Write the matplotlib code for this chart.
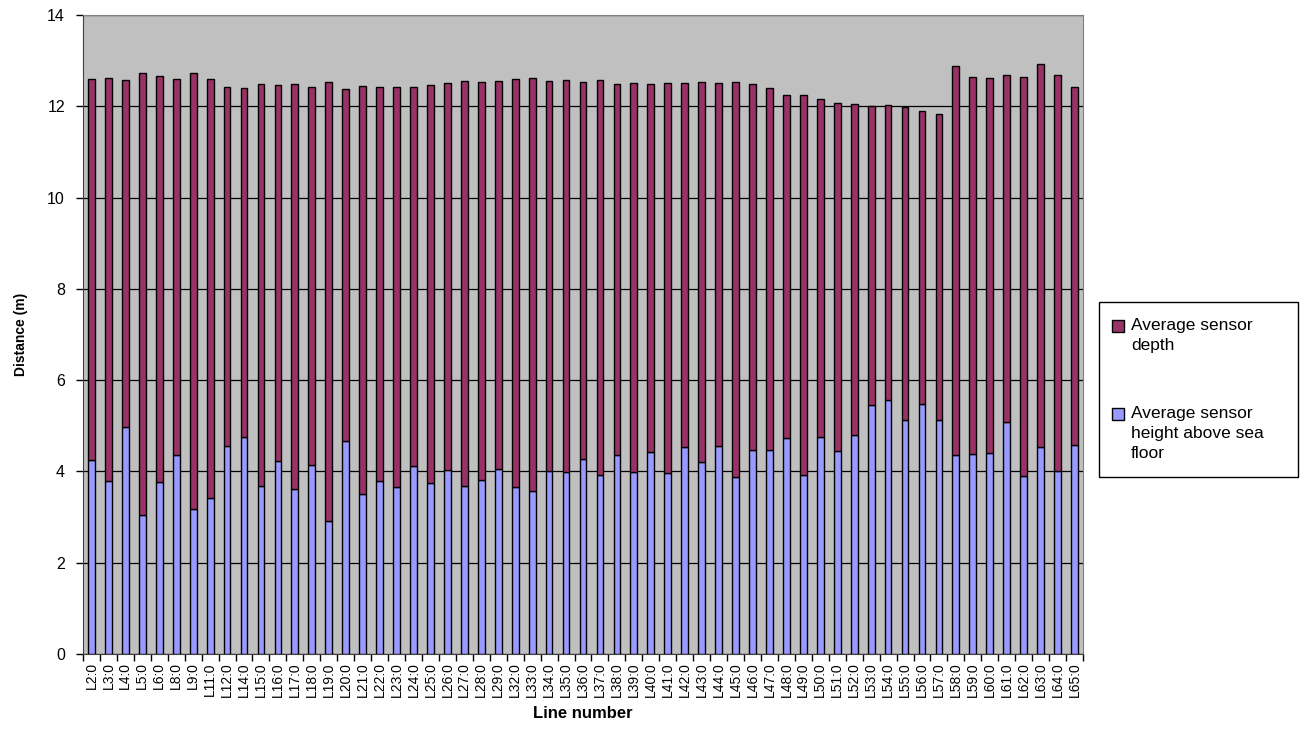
import numpy as np
import matplotlib
matplotlib.use("Agg")
import matplotlib.pyplot as plt
from matplotlib.patches import Rectangle

plt.rcParams['font.family'] = ['Liberation Sans', 'DejaVu Sans']

# ── data ──────────────────────────────────────────────────
lines = ["L2:0", "L3:0", "L4:0", "L5:0", "L6:0", "L8:0", "L9:0", "L11:0", "L12:0",
         "L14:0", "L15:0", "L16:0", "L17:0", "L18:0", "L19:0", "L20:0", "L21:0",
         "L22:0", "L23:0", "L24:0", "L25:0", "L26:0", "L27:0", "L28:0", "L29:0",
         "L32:0", "L33:0", "L34:0", "L35:0", "L36:0", "L37:0", "L38:0", "L39:0",
         "L40:0", "L41:0", "L42:0", "L43:0", "L44:0", "L45:0", "L46:0", "L47:0",
         "L48:0", "L49:0", "L50:0", "L51:0", "L52:0", "L53:0", "L54:0", "L55:0",
         "L56:0", "L57:0", "L58:0", "L59:0", "L60:0", "L61:0", "L62:0", "L63:0",
         "L64:0", "L65:0"]

# average sensor height above sea floor (m)
height = [4.24, 3.80, 4.98, 3.04, 3.76, 4.37, 3.18, 3.42, 4.55,
          4.75, 3.68, 4.23, 3.61, 4.14, 2.91, 4.66, 3.51,
          3.80, 3.66, 4.12, 3.74, 4.04, 3.67, 3.81, 4.06,
          3.66, 3.58, 4.02, 3.98, 4.27, 3.92, 4.36, 3.99,
          4.43, 3.96, 4.54, 4.20, 4.55, 3.88, 4.48, 4.46,
          4.73, 3.93, 4.75, 4.44, 4.79, 5.45, 5.56, 5.13,
          5.47, 5.12, 4.36, 4.39, 4.40, 5.09, 3.91, 4.53,
          4.01, 4.58]

# average sensor depth (m), stacked on top
depth = [8.35, 8.81, 7.59, 9.68, 8.90, 8.22, 9.55, 9.17, 7.87,
         7.66, 8.81, 8.23, 8.88, 8.29, 9.62, 7.72, 8.93,
         8.62, 8.77, 8.30, 8.73, 8.46, 8.89, 8.73, 8.50,
         8.94, 9.04, 8.53, 8.60, 8.26, 8.66, 8.12, 8.52,
         8.06, 8.54, 7.97, 8.34, 7.95, 8.65, 8.00, 7.94,
         7.51, 8.32, 7.40, 7.64, 7.27, 6.56, 6.47, 6.86,
         6.43, 6.71, 8.52, 8.25, 8.23, 7.60, 8.73, 8.40,
         8.68, 7.84]

series_names = ["Average sensor\ndepth", "Average sensor\nheight above sea\nfloor"]
colors = ["#993366", "#9999FF"]

W, H = 1307, 732

# ── plot ──────────────────────────────────────────────────
fig = plt.figure(figsize=(W / 100, H / 100), dpi=100)
ax = fig.add_axes([83 / W, 1 - 654 / H, 1000 / W, 639 / H])
ax.set_facecolor("#C0C0C0")

x = np.arange(len(lines))
ax.bar(x, height, width=0.4, color=colors[1], edgecolor="black", linewidth=1.0, zorder=3)
ax.bar(x, depth, width=0.4, bottom=height, color=colors[0], edgecolor="black",
       linewidth=1.0, zorder=3)

ax.set_xlim(-0.5, len(lines) - 0.5)
ax.set_ylim(0, 14)
ax.set_yticks(np.arange(0, 15, 2))
ax.yaxis.grid(True, color="black", linewidth=0.9, zorder=1)
ax.set_axisbelow(True)

ax.set_xticks(x)
ax.set_xticklabels(lines, rotation=90, fontsize=10)
ax.set_xticks(np.arange(-0.5, len(lines)), minor=True)
ax.tick_params(axis="x", which="major", length=0, pad=6)
ax.tick_params(axis="x", which="minor", length=5, width=1, direction="out")
ax.tick_params(axis="y", length=5, width=1, direction="out", labelsize=11.5, pad=8)

for s in ["top", "right"]:
    ax.spines[s].set_color("#808080")
ax.spines["left"].set_color("#404040")
ax.spines["bottom"].set_color("#404040")

ax.set_xlabel("Line number", fontsize=12, fontweight="bold", labelpad=6)
ax.set_ylabel("Distance (m)", fontsize=10, fontweight="bold", labelpad=14)

# ── legend, Excel style (key square aligned with first text line) ──
fig.patches.append(Rectangle((1099 / W, 1 - 477 / H), 199 / W, 175 / H,
                             transform=fig.transFigure, facecolor="white",
                             edgecolor="black", linewidth=1.0))
for name, col, ytop in zip(series_names, colors, [320, 408]):
    fig.patches.append(Rectangle((1112 / W, 1 - (ytop + 12) / H), 12 / W, 12 / H,
                                 transform=fig.transFigure, facecolor=col,
                                 edgecolor="black", linewidth=1.0))
    fig.text(1131 / W, 1 - (ytop - 2) / H, name, fontsize=12.5, va="top", ha="left",
             linespacing=1.4)

fig.savefig("out.png", dpi=100)
